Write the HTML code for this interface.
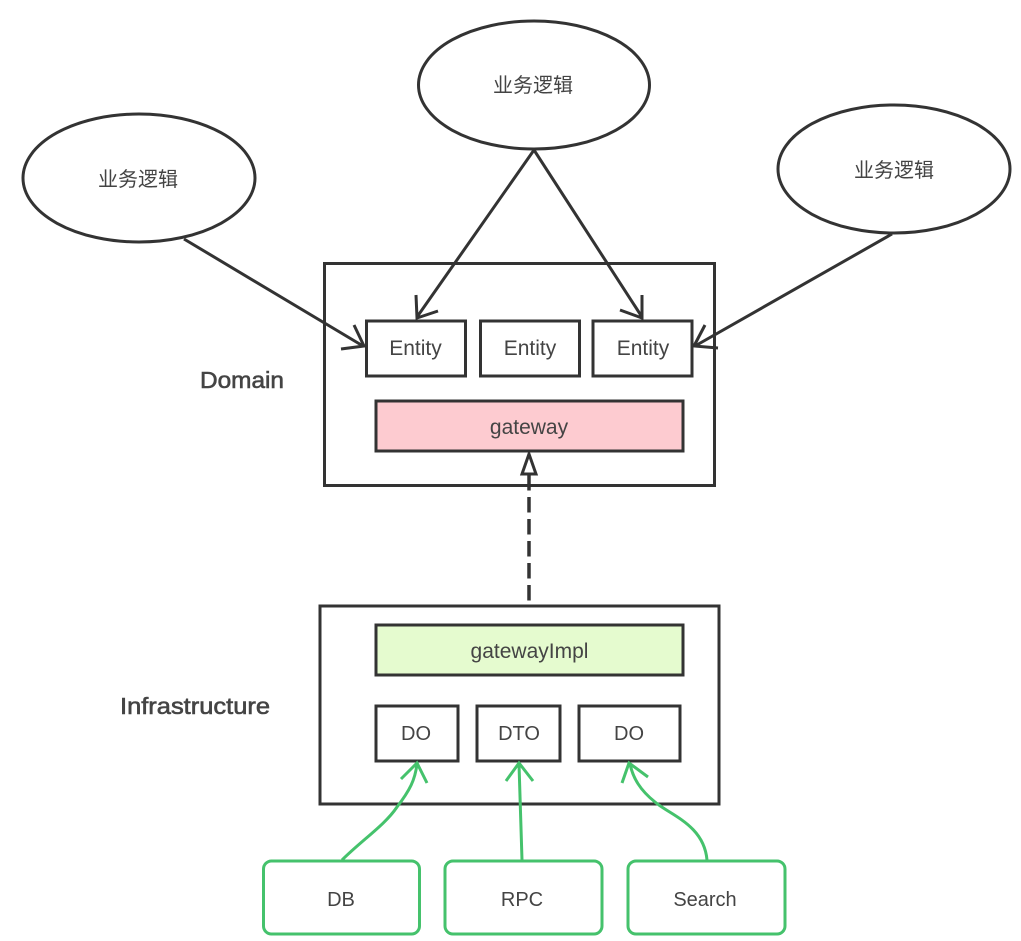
<!DOCTYPE html>
<html><head><meta charset="utf-8"><style>
html,body{margin:0;padding:0;background:#fff;width:1021px;height:941px;overflow:hidden}
svg{display:block}
text{font-family:"Liberation Sans","Noto Sans CJK SC",sans-serif;fill:#444;text-anchor:middle}
</style></head><body>
<svg width="1021" height="941" viewBox="0 0 1021 941" xmlns="http://www.w3.org/2000/svg">
<g fill="none" stroke="#333" stroke-width="3">
<ellipse cx="139" cy="178" rx="116" ry="64"/>
<ellipse cx="534" cy="85" rx="115.500" ry="64"/>
<ellipse cx="894" cy="169" rx="116" ry="64"/>
<rect x="324.500" y="263.500" width="390" height="222"/>
<rect x="320" y="606" width="399" height="198"/>
<rect x="366.500" y="321" width="99" height="55"/>
<rect x="480.500" y="321" width="99" height="55"/>
<rect x="593" y="321" width="99" height="55"/>
<rect x="376" y="401" width="307" height="50" fill="#fdcbd0"/>
<rect x="376" y="625" width="307" height="50" fill="#e5fbcf"/>
<rect x="376" y="706" width="82" height="55"/>
<rect x="477" y="706" width="83" height="55"/>
<rect x="579" y="706" width="101" height="55"/>
<path d="M184 239L363 346M354 325L364 346L341 349"/>
<path d="M534 150L417 317M416 295L417 318L438 311"/>
<path d="M534 150L642 317M642 295L642 318L620 310"/>
<path d="M892 234L695 346M705 325L694 346L718 348"/>
<path d="M529 475V606" stroke-width="3.500" stroke-dasharray="15.500 6.500"/>
<path d="M529 454L522 474H536Z"/>
</g>
<g fill="none" stroke="#45c26c" stroke-width="3">
<rect x="263.500" y="861" width="156" height="73" rx="8"/>
<rect x="445" y="861" width="157" height="73" rx="8"/>
<rect x="628" y="861" width="157" height="73" rx="8"/>
<path d="M342 860C362 840 385 825 397 807C410 790 415 780 417 764M401 779L417 763L427 783"/>
<path d="M522 860L519 764M506 781L519 763L533 781"/>
<path d="M707 860C704 825 670 815 655 802C640 790 633 778 630 764M622 783L629 763L648 777"/>
</g>
<g font-size="21">
<text x="415.500" y="355">Entity</text>
<text x="530" y="355">Entity</text>
<text x="643" y="355">Entity</text>
<text x="529" y="434">gateway</text>
<text x="529.500" y="658">gatewayImpl</text>
</g>
<g font-size="20">
<text x="138" y="186">业务逻辑</text>
<text x="533" y="92">业务逻辑</text>
<text x="894" y="177">业务逻辑</text>
<text x="416" y="740">DO</text>
<text x="519" y="740">DTO</text>
<text x="629" y="740">DO</text>
<text x="341" y="906">DB</text>
<text x="522" y="906">RPC</text>
<text x="705" y="906">Search</text>
</g>
<g font-size="23">
<text x="242" y="388" stroke="#444" stroke-width=".6" textLength="84" lengthAdjust="spacingAndGlyphs">Domain</text>
<text x="195" y="714" stroke="#444" stroke-width=".6" textLength="150" lengthAdjust="spacingAndGlyphs">Infrastructure</text>
</g>
</svg>
</body></html>
